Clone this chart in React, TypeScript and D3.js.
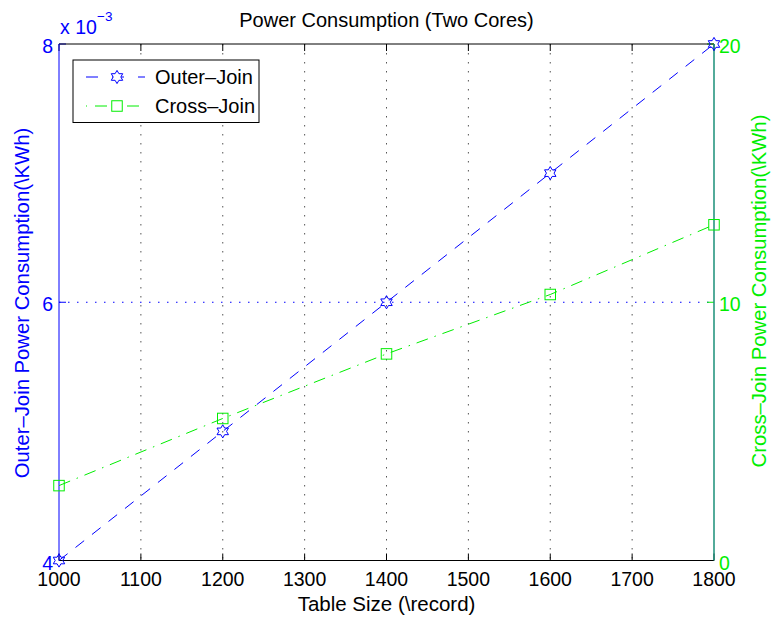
import React from "react";
import * as d3 from "d3";

const tableSizes = [1000, 1200, 1400, 1600, 1800];
const outerJoin = [4.0, 5.0, 6.0, 7.0, 8.0]; // x 10^-3 KWh
const crossJoin = [2.9, 5.5, 8.0, 10.3, 13.0];
const xTicks = [1000, 1100, 1200, 1300, 1400, 1500, 1600, 1700, 1800];
const leftTicks = [4, 6, 8];
const rightTicks = [0, 10, 20];

const W = 772, H = 617;
const L = 59, R = 714, T = 44, B = 560.5;
const BLUE = "#0000ff";
const GREEN = "#00ee00";
const FONT = "'Liberation Sans', Arial, Helvetica, sans-serif";

function hexagram(r: number) {
  const pts: [number, number][] = [];
  const ri = r / Math.sqrt(3);
  for (let i = 0; i < 12; i++) {
    const a = -Math.PI / 2 + (i * Math.PI) / 6;
    const rr = i % 2 === 0 ? r : ri;
    pts.push([rr * Math.cos(a), rr * Math.sin(a)]);
  }
  return "M" + pts.map((p) => p[0].toFixed(2) + "," + p[1].toFixed(2)).join("L") + "Z";
}

export default function App() {
  const x = d3.scaleLinear().domain([1000, 1800]).range([L, R]);
  const yL = d3.scaleLinear().domain([4, 8]).range([B, T]);
  const yR = d3.scaleLinear().domain([0, 20]).range([B, T]);

  const lineL = d3.line<number>().x((_, i) => x(tableSizes[i])).y((d) => yL(d));
  const lineR = d3.line<number>().x((_, i) => x(tableSizes[i])).y((d) => yR(d));
  const star = hexagram(6.6);
  const sq = 10.5;

  return (
    <svg width={W} height={H} style={{ position: "absolute", left: 0, top: 0, background: "#fff" }} fontFamily={FONT}>
      <rect x={0} y={0} width={W} height={H} fill="#fff" />
      {/* vertical grid */}
      {xTicks.slice(1, -1).map((t) => (
        <line key={"g" + t} x1={x(t)} x2={x(t)} y1={T} y2={B} stroke="#555" strokeWidth={1} strokeDasharray="1.5 7.5" />
      ))}
      {/* horizontal grid (left axis) */}
      {leftTicks.slice(1, -1).map((t) => (
        <line key={"h" + t} x1={L} x2={R} y1={yL(t)} y2={yL(t)} stroke={BLUE} strokeWidth={1} strokeDasharray="1.5 7.5" />
      ))}
      {/* x ticks top and bottom */}
      {xTicks.map((t) => (
        <g key={"xt" + t}>
          <line x1={x(t)} x2={x(t)} y1={B} y2={B - 7} stroke="#000" />
          <line x1={x(t)} x2={x(t)} y1={T} y2={T + 7} stroke="#000" />
          <text x={x(t)} y={586} textAnchor="middle" fontSize={19.5} fill="#000">{t}</text>
        </g>
      ))}
      {/* left ticks */}
      {leftTicks.map((t) => (
        <g key={"lt" + t}>
          <line x1={L} x2={L + 7} y1={yL(t)} y2={yL(t)} stroke={BLUE} />
          <text x={53} y={yL(t) + 9} textAnchor="end" fontSize={19.5} fill={BLUE}>{t}</text>
        </g>
      ))}
      {/* right ticks */}
      {rightTicks.map((t) => (
        <g key={"rt" + t}>
          <line x1={R} x2={R - 7} y1={yR(t)} y2={yR(t)} stroke={GREEN} />
          <text x={719} y={yR(t) + 9} textAnchor="start" fontSize={19.5} fill={GREEN}>{t}</text>
        </g>
      ))}
      {/* axes box */}
      <line x1={L} x2={R} y1={T} y2={T} stroke="#000" />
      <line x1={L} x2={R} y1={B} y2={B} stroke="#000" />
      <line x1={L} x2={L} y1={T} y2={B} stroke={BLUE} />
      <line x1={R} x2={R} y1={T} y2={B} stroke="#1a8f78" strokeWidth={1.5} />

      {/* series */}
      <path d={lineL(outerJoin) || ""} fill="none" stroke={BLUE} strokeWidth={1} strokeDasharray="11 10" />
      <path d={lineR(crossJoin) || ""} fill="none" stroke={GREEN} strokeWidth={1} strokeDasharray="12 7 1.5 7" />
      {outerJoin.map((v, i) => (
        <path key={"s" + i} d={star} transform={`translate(${x(tableSizes[i])},${yL(v)})`} fill="none" stroke={BLUE} strokeWidth={1} />
      ))}
      {crossJoin.map((v, i) => (
        <rect key={"q" + i} x={x(tableSizes[i]) - sq / 2} y={yR(v) - sq / 2} width={sq} height={sq} fill="none" stroke={GREEN} strokeWidth={1} />
      ))}

      {/* exponent */}
      <text x={60} y={34} fontSize={19.5} fill={BLUE}>x 10</text>
      <text x={97} y={21} fontSize={13.5} fill={BLUE}>−3</text>

      {/* title */}
      <text x={(L + R) / 2} y={27} textAnchor="middle" fontSize={20} fill="#000">Power Consumption (Two Cores)</text>
      {/* x label */}
      <text x={(L + R) / 2} y={611} textAnchor="middle" fontSize={20.5} fill="#000">Table Size (\record)</text>
      {/* y labels */}
      <text transform={`translate(28.5,303) rotate(-90)`} textAnchor="middle" fontSize={20.3} fill={BLUE}>Outer–Join Power Consumption(\KWh)</text>
      <text transform={`translate(766,291) rotate(-90)`} textAnchor="middle" fontSize={20.3} fill={GREEN}>Cross–Join Power Consumption(\KWh)</text>

      {/* legend */}
      <rect x={73} y={60} width={186} height={62.5} fill="#fff" stroke="#000" strokeWidth={1} />
      <line x1={86} x2={145} y1={77} y2={77} stroke={BLUE} strokeDasharray="12 14" />
      <path d={star} transform="translate(117,77)" fill="#fff" stroke={BLUE} />
      <text x={155} y={83.5} fontSize={20} fill="#000">Outer–Join</text>
      <line x1={86} x2={145} y1={106} y2={106} stroke={GREEN} strokeDasharray="1 8 12 20 12 8 1" />
      <rect x={117 - sq / 2} y={106 - sq / 2} width={sq} height={sq} fill="#fff" stroke={GREEN} />
      <text x={155} y={112.7} fontSize={20} fill="#000">Cross–Join</text>
    </svg>
  );
}
